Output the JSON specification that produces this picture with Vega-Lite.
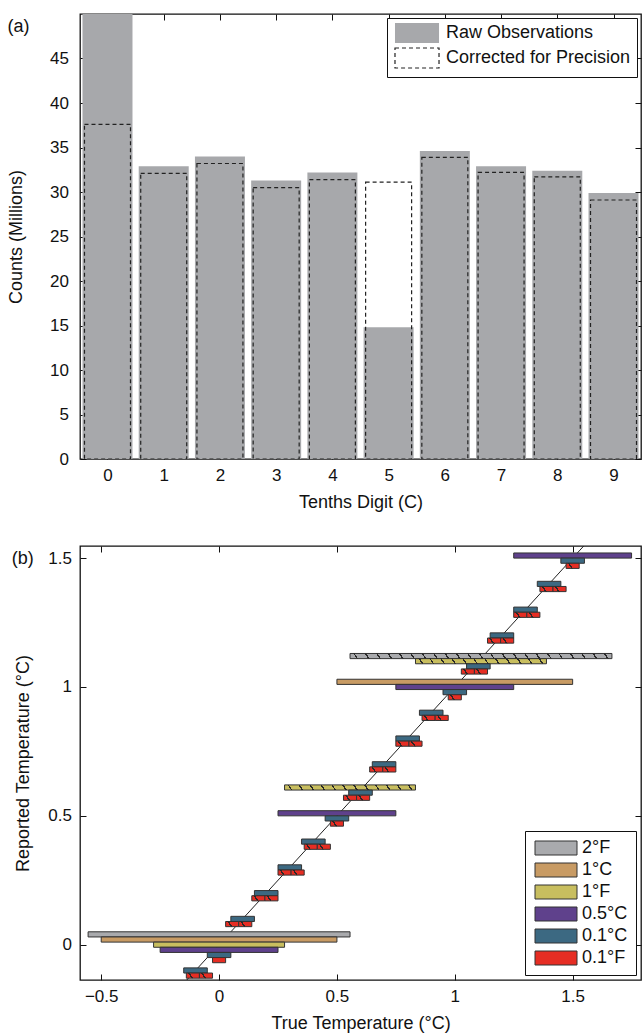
{
  "$schema": "https://vega.github.io/schema/vega-lite/v6.json",
  "padding": {"left": 6, "top": 12, "right": 2, "bottom": 0},
  "spacing": 32,
  "resolve": {
    "scale": {"fill": "independent", "stroke": "independent", "strokeDash": "independent"},
    "legend": {"fill": "independent", "stroke": "independent", "strokeDash": "independent"}
  },
  "config": {
    "font": "Liberation Sans",
    "view": {"stroke": "#111", "strokeWidth": 1.3},
    "axis": {
      "domain": false, "grid": false,
      "tickColor": "#111", "tickSize": -6, "tickWidth": 1,
      "labelFont": "Liberation Sans", "labelFontSize": 17, "labelColor": "#111",
      "titleFont": "Liberation Sans", "titleFontSize": 18, "titleFontWeight": "normal", "titleColor": "#111"
    },
    "axisX": {"labelPadding": 14, "titlePadding": 10},
    "axisY": {"labelPadding": 14.5, "titlePadding": 15},
    "legend": {"labelFont": "Liberation Sans", "labelColor": "#111", "labelFontSize": 18, "labelLimit": 400, "strokeColor": "#111", "fillColor": "white"},
    "title": {"font": "Liberation Sans", "fontSize": 18, "fontWeight": "normal", "color": "#111"}
  },
  "datasets": {
    "counts": [
      {"digit": 0, "kind": "Raw Observations", "count": 50},
      {"digit": 1, "kind": "Raw Observations", "count": 32.9},
      {"digit": 2, "kind": "Raw Observations", "count": 34.0},
      {"digit": 3, "kind": "Raw Observations", "count": 31.3},
      {"digit": 4, "kind": "Raw Observations", "count": 32.2},
      {"digit": 5, "kind": "Raw Observations", "count": 14.8},
      {"digit": 6, "kind": "Raw Observations", "count": 34.6},
      {"digit": 7, "kind": "Raw Observations", "count": 32.9},
      {"digit": 8, "kind": "Raw Observations", "count": 32.4},
      {"digit": 9, "kind": "Raw Observations", "count": 29.9},
      {"digit": 0, "kind": "Corrected for Precision", "count": 37.6},
      {"digit": 1, "kind": "Corrected for Precision", "count": 32.1},
      {"digit": 2, "kind": "Corrected for Precision", "count": 33.2},
      {"digit": 3, "kind": "Corrected for Precision", "count": 30.5},
      {"digit": 4, "kind": "Corrected for Precision", "count": 31.4},
      {"digit": 5, "kind": "Corrected for Precision", "count": 31.1},
      {"digit": 6, "kind": "Corrected for Precision", "count": 33.9},
      {"digit": 7, "kind": "Corrected for Precision", "count": 32.2},
      {"digit": 8, "kind": "Corrected for Precision", "count": 31.7},
      {"digit": 9, "kind": "Corrected for Precision", "count": 29.1}
    ],
    "diag": [{"t": -0.6}, {"t": 1.8}],
    "bars": [
      {"s": "2°F", "lo": -0.5556, "hi": 0.5556, "ylo": 0.03, "yhi": 0.05, "h": "none"},
      {"s": "2°F", "lo": 0.5556, "hi": 1.6667, "ylo": 1.11, "yhi": 1.13, "h": "wide"},
      {"s": "1°C", "lo": -0.5, "hi": 0.5, "ylo": 0.01, "yhi": 0.03, "h": "none"},
      {"s": "1°C", "lo": 0.5, "hi": 1.5, "ylo": 1.01, "yhi": 1.03, "h": "none"},
      {"s": "1°F", "lo": -0.2778, "hi": 0.2778, "ylo": -0.01, "yhi": 0.01, "h": "none"},
      {"s": "1°F", "lo": 0.2778, "hi": 0.8333, "ylo": 0.6, "yhi": 0.62, "h": "mid"},
      {"s": "1°F", "lo": 0.8333, "hi": 1.3889, "ylo": 1.09, "yhi": 1.11, "h": "mid"},
      {"s": "0.5°C", "lo": -0.25, "hi": 0.25, "ylo": -0.03, "yhi": -0.01, "h": "none"},
      {"s": "0.5°C", "lo": 0.25, "hi": 0.75, "ylo": 0.5, "yhi": 0.52, "h": "none"},
      {"s": "0.5°C", "lo": 0.75, "hi": 1.25, "ylo": 0.99, "yhi": 1.01, "h": "none"},
      {"s": "0.5°C", "lo": 1.25, "hi": 1.75, "ylo": 1.5, "yhi": 1.52, "h": "none"},
      {"s": "0.1°C", "lo": -0.15, "hi": -0.05, "ylo": -0.11, "yhi": -0.09, "h": "none"},
      {"s": "0.1°C", "lo": -0.05, "hi": 0.05, "ylo": -0.05, "yhi": -0.03, "h": "none"},
      {"s": "0.1°C", "lo": 0.05, "hi": 0.15, "ylo": 0.09, "yhi": 0.11, "h": "none"},
      {"s": "0.1°C", "lo": 0.15, "hi": 0.25, "ylo": 0.19, "yhi": 0.21, "h": "none"},
      {"s": "0.1°C", "lo": 0.25, "hi": 0.35, "ylo": 0.29, "yhi": 0.31, "h": "none"},
      {"s": "0.1°C", "lo": 0.35, "hi": 0.45, "ylo": 0.39, "yhi": 0.41, "h": "none"},
      {"s": "0.1°C", "lo": 0.45, "hi": 0.55, "ylo": 0.48, "yhi": 0.5, "h": "none"},
      {"s": "0.1°C", "lo": 0.55, "hi": 0.65, "ylo": 0.58, "yhi": 0.6, "h": "none"},
      {"s": "0.1°C", "lo": 0.65, "hi": 0.75, "ylo": 0.69, "yhi": 0.71, "h": "none"},
      {"s": "0.1°C", "lo": 0.75, "hi": 0.85, "ylo": 0.79, "yhi": 0.81, "h": "none"},
      {"s": "0.1°C", "lo": 0.85, "hi": 0.95, "ylo": 0.89, "yhi": 0.91, "h": "none"},
      {"s": "0.1°C", "lo": 0.95, "hi": 1.05, "ylo": 0.97, "yhi": 0.99, "h": "none"},
      {"s": "0.1°C", "lo": 1.05, "hi": 1.15, "ylo": 1.07, "yhi": 1.09, "h": "none"},
      {"s": "0.1°C", "lo": 1.15, "hi": 1.25, "ylo": 1.19, "yhi": 1.21, "h": "none"},
      {"s": "0.1°C", "lo": 1.25, "hi": 1.35, "ylo": 1.29, "yhi": 1.31, "h": "none"},
      {"s": "0.1°C", "lo": 1.35, "hi": 1.45, "ylo": 1.39, "yhi": 1.41, "h": "none"},
      {"s": "0.1°C", "lo": 1.45, "hi": 1.55, "ylo": 1.48, "yhi": 1.5, "h": "none"},
      {"s": "0.1°F", "lo": -0.1389, "hi": -0.0833, "ylo": -0.13, "yhi": -0.11, "h": "narrow"},
      {"s": "0.1°F", "lo": -0.0833, "hi": -0.0278, "ylo": -0.13, "yhi": -0.11, "h": "narrow"},
      {"s": "0.1°F", "lo": -0.0278, "hi": 0.0278, "ylo": -0.07, "yhi": -0.05, "h": "none"},
      {"s": "0.1°F", "lo": 0.0278, "hi": 0.0833, "ylo": 0.07, "yhi": 0.09, "h": "narrow"},
      {"s": "0.1°F", "lo": 0.0833, "hi": 0.1389, "ylo": 0.07, "yhi": 0.09, "h": "narrow"},
      {"s": "0.1°F", "lo": 0.1389, "hi": 0.1944, "ylo": 0.17, "yhi": 0.19, "h": "narrow"},
      {"s": "0.1°F", "lo": 0.1944, "hi": 0.25, "ylo": 0.17, "yhi": 0.19, "h": "narrow"},
      {"s": "0.1°F", "lo": 0.25, "hi": 0.3056, "ylo": 0.27, "yhi": 0.29, "h": "narrow"},
      {"s": "0.1°F", "lo": 0.3056, "hi": 0.3611, "ylo": 0.27, "yhi": 0.29, "h": "narrow"},
      {"s": "0.1°F", "lo": 0.3611, "hi": 0.4167, "ylo": 0.37, "yhi": 0.39, "h": "narrow"},
      {"s": "0.1°F", "lo": 0.4167, "hi": 0.4722, "ylo": 0.37, "yhi": 0.39, "h": "narrow"},
      {"s": "0.1°F", "lo": 0.4722, "hi": 0.5278, "ylo": 0.46, "yhi": 0.48, "h": "narrow"},
      {"s": "0.1°F", "lo": 0.5278, "hi": 0.5833, "ylo": 0.56, "yhi": 0.58, "h": "narrow"},
      {"s": "0.1°F", "lo": 0.5833, "hi": 0.6389, "ylo": 0.56, "yhi": 0.58, "h": "narrow"},
      {"s": "0.1°F", "lo": 0.6389, "hi": 0.6944, "ylo": 0.67, "yhi": 0.69, "h": "narrow"},
      {"s": "0.1°F", "lo": 0.6944, "hi": 0.75, "ylo": 0.67, "yhi": 0.69, "h": "narrow"},
      {"s": "0.1°F", "lo": 0.75, "hi": 0.8056, "ylo": 0.77, "yhi": 0.79, "h": "narrow"},
      {"s": "0.1°F", "lo": 0.8056, "hi": 0.8611, "ylo": 0.77, "yhi": 0.79, "h": "narrow"},
      {"s": "0.1°F", "lo": 0.8611, "hi": 0.9167, "ylo": 0.87, "yhi": 0.89, "h": "narrow"},
      {"s": "0.1°F", "lo": 0.9167, "hi": 0.9722, "ylo": 0.87, "yhi": 0.89, "h": "narrow"},
      {"s": "0.1°F", "lo": 0.9722, "hi": 1.0278, "ylo": 0.95, "yhi": 0.97, "h": "narrow"},
      {"s": "0.1°F", "lo": 1.0278, "hi": 1.0833, "ylo": 1.05, "yhi": 1.07, "h": "narrow"},
      {"s": "0.1°F", "lo": 1.0833, "hi": 1.1389, "ylo": 1.05, "yhi": 1.07, "h": "narrow"},
      {"s": "0.1°F", "lo": 1.1389, "hi": 1.1944, "ylo": 1.17, "yhi": 1.19, "h": "narrow"},
      {"s": "0.1°F", "lo": 1.1944, "hi": 1.25, "ylo": 1.17, "yhi": 1.19, "h": "narrow"},
      {"s": "0.1°F", "lo": 1.25, "hi": 1.3056, "ylo": 1.27, "yhi": 1.29, "h": "narrow"},
      {"s": "0.1°F", "lo": 1.3056, "hi": 1.3611, "ylo": 1.27, "yhi": 1.29, "h": "narrow"},
      {"s": "0.1°F", "lo": 1.3611, "hi": 1.4167, "ylo": 1.37, "yhi": 1.39, "h": "narrow"},
      {"s": "0.1°F", "lo": 1.4167, "hi": 1.4722, "ylo": 1.37, "yhi": 1.39, "h": "narrow"},
      {"s": "0.1°F", "lo": 1.4722, "hi": 1.5278, "ylo": 1.46, "yhi": 1.48, "h": "narrow"}
    ]
  },
  "vconcat": [
    {
      "width": 561,
      "height": 445,
      "title": {"text": "(a)", "anchor": "start", "frame": "bounds", "baseline": "top", "offset": -22, "dx": 0},
      "data": {"name": "counts"},
      "layer": [
        {
          "transform": [{"filter": "datum.kind === 'Raw Observations'"}],
          "mark": {"type": "bar", "orient": "vertical", "size": 50, "clip": true, "strokeWidth": 0},
          "encoding": {
            "x": {"field": "digit", "type": "quantitative", "scale": {"domain": [-0.4, 9.4], "nice": false, "zero": false},
                  "axis": {"orient": "bottom", "values": [0, 1, 2, 3, 4, 5, 6, 7, 8, 9], "format": "d", "title": "Tenths Digit (C)"}},
            "y": {"field": "count", "type": "quantitative", "scale": {"domain": [0, 50], "nice": false},
                  "axis": {"orient": "left", "values": [0, 5, 10, 15, 20, 25, 30, 35, 40, 45], "title": "Counts (Millions)", "titlePadding": 24, "labelPadding": 17.5}},
            "fill": {"field": "kind", "type": "nominal",
                     "scale": {"domain": ["Raw Observations", "Corrected for Precision"], "range": ["#a7a8ab", "transparent"]},
                     "legend": {"orient": "top-right", "title": null, "offset": 4, "padding": 6, "symbolType": "M-1.43,-1.43H4.86V1.43H-1.43Z", "symbolSize": 196, "symbolOffset": 3, "labelOffset": 32, "rowPadding": -1, "symbolStrokeWidth": 1.2}}
          }
        },
        {
          "transform": [{"filter": "datum.kind === 'Corrected for Precision'"}],
          "mark": {"type": "bar", "orient": "vertical", "size": 46, "clip": true, "strokeWidth": 1.2, "fill": "transparent"},
          "encoding": {
            "x": {"field": "digit", "type": "quantitative",
                  "axis": {"orient": "top", "values": [0, 1, 2, 3, 4, 5, 6, 7, 8, 9], "labels": false, "title": null}},
            "y": {"field": "count", "type": "quantitative",
                  "axis": {"orient": "right", "values": [0, 5, 10, 15, 20, 25, 30, 35, 40, 45], "labels": false, "title": null}},
            "stroke": {"field": "kind", "type": "nominal",
                       "scale": {"domain": ["Raw Observations", "Corrected for Precision"], "range": ["transparent", "#222"]},
                       "legend": {"orient": "top-right", "title": null, "offset": 4, "padding": 6, "symbolType": "M-1.43,-1.43H4.86V1.43H-1.43Z", "symbolSize": 196, "symbolOffset": 3, "labelOffset": 32, "rowPadding": -1, "symbolStrokeWidth": 1.2}},
            "strokeDash": {"field": "kind", "type": "nominal",
                           "scale": {"domain": ["Raw Observations", "Corrected for Precision"], "range": [[1, 0], [4, 3]]},
                           "legend": {"orient": "top-right", "title": null, "offset": 4, "padding": 6, "symbolType": "M-1.43,-1.43H4.86V1.43H-1.43Z", "symbolSize": 196, "symbolOffset": 3, "labelOffset": 32, "rowPadding": -1, "symbolStrokeWidth": 1.2}}
          }
        }
      ]
    },
    {
      "width": 561,
      "height": 434,
      "title": {"text": "(b)", "anchor": "start", "frame": "bounds", "baseline": "top", "offset": -22, "dx": -3},
      "layer": [
        {
          "data": {"name": "diag"},
          "mark": {"type": "line", "color": "#222", "strokeWidth": 1, "clip": true},
          "encoding": {
            "x": {"field": "t", "type": "quantitative", "scale": {"domain": [-0.59, 1.79], "nice": false, "zero": false},
                  "axis": {"orient": "bottom", "values": [-0.5, 0, 0.5, 1, 1.5], "format": "~g", "title": "True Temperature (°C)"}},
            "y": {"field": "t", "type": "quantitative", "scale": {"domain": [-0.137, 1.547], "nice": false, "zero": false},
                  "axis": {"orient": "left", "values": [0, 0.5, 1, 1.5], "format": "~g", "title": "Reported Temperature (°C)"}}
          }
        },
        {
          "data": {"name": "bars"},
          "mark": {"type": "rect", "stroke": "#333", "strokeWidth": 1, "clip": true},
          "encoding": {
            "x": {"field": "lo", "type": "quantitative",
                  "axis": {"orient": "top", "values": [-0.5, 0, 0.5, 1, 1.5], "labels": false, "title": null}},
            "x2": {"field": "hi"},
            "y": {"field": "ylo", "type": "quantitative",
                  "axis": {"orient": "right", "values": [0, 0.5, 1, 1.5], "labels": false, "title": null}},
            "y2": {"field": "yhi"},
            "fill": {"field": "s", "type": "nominal",
                     "scale": {"domain": ["2°F", "1°C", "1°F", "0.5°C", "0.1°C", "0.1°F"],
                               "range": ["#a9aaad", "#c89b64", "#c8be5f", "#5f418c", "#3c6982", "#e62d23"]},
                     "legend": {"orient": "bottom-right", "title": null, "offset": 5, "padding": 8, "symbolType": "M-1,-1H5V1H-1Z", "symbolSize": 196, "symbolStrokeColor": "#333", "symbolStrokeWidth": 1, "labelOffset": 31, "rowPadding": 4}}
          }
        },
        {
          "data": {"name": "bars"},
          "transform": [{"filter": "datum.h === 'wide'"}],
          "mark": {"type": "rect", "strokeWidth": 0, "clip": true,
                   "fill": {"gradient": "linear", "x1": 0, "y1": 0.5067, "x2": 1, "y2": 0.4933, "stops": [
                     {"offset": 0, "color": "rgba(40,40,40,0)"},
                     {"offset": 0.0187, "color": "rgba(40,40,40,0)"}, {"offset": 0.0187, "color": "#282828"}, {"offset": 0.0247, "color": "#282828"}, {"offset": 0.0247, "color": "rgba(40,40,40,0)"},
                     {"offset": 0.0622, "color": "rgba(40,40,40,0)"}, {"offset": 0.0622, "color": "#282828"}, {"offset": 0.0682, "color": "#282828"}, {"offset": 0.0682, "color": "rgba(40,40,40,0)"},
                     {"offset": 0.1057, "color": "rgba(40,40,40,0)"}, {"offset": 0.1057, "color": "#282828"}, {"offset": 0.1117, "color": "#282828"}, {"offset": 0.1117, "color": "rgba(40,40,40,0)"},
                     {"offset": 0.1492, "color": "rgba(40,40,40,0)"}, {"offset": 0.1492, "color": "#282828"}, {"offset": 0.1552, "color": "#282828"}, {"offset": 0.1552, "color": "rgba(40,40,40,0)"},
                     {"offset": 0.1927, "color": "rgba(40,40,40,0)"}, {"offset": 0.1927, "color": "#282828"}, {"offset": 0.1987, "color": "#282828"}, {"offset": 0.1987, "color": "rgba(40,40,40,0)"},
                     {"offset": 0.2361, "color": "rgba(40,40,40,0)"}, {"offset": 0.2361, "color": "#282828"}, {"offset": 0.2421, "color": "#282828"}, {"offset": 0.2421, "color": "rgba(40,40,40,0)"},
                     {"offset": 0.2796, "color": "rgba(40,40,40,0)"}, {"offset": 0.2796, "color": "#282828"}, {"offset": 0.2856, "color": "#282828"}, {"offset": 0.2856, "color": "rgba(40,40,40,0)"},
                     {"offset": 0.3231, "color": "rgba(40,40,40,0)"}, {"offset": 0.3231, "color": "#282828"}, {"offset": 0.3291, "color": "#282828"}, {"offset": 0.3291, "color": "rgba(40,40,40,0)"},
                     {"offset": 0.3666, "color": "rgba(40,40,40,0)"}, {"offset": 0.3666, "color": "#282828"}, {"offset": 0.3726, "color": "#282828"}, {"offset": 0.3726, "color": "rgba(40,40,40,0)"},
                     {"offset": 0.41, "color": "rgba(40,40,40,0)"}, {"offset": 0.41, "color": "#282828"}, {"offset": 0.416, "color": "#282828"}, {"offset": 0.416, "color": "rgba(40,40,40,0)"},
                     {"offset": 0.4535, "color": "rgba(40,40,40,0)"}, {"offset": 0.4535, "color": "#282828"}, {"offset": 0.4595, "color": "#282828"}, {"offset": 0.4595, "color": "rgba(40,40,40,0)"},
                     {"offset": 0.497, "color": "rgba(40,40,40,0)"}, {"offset": 0.497, "color": "#282828"}, {"offset": 0.503, "color": "#282828"}, {"offset": 0.503, "color": "rgba(40,40,40,0)"},
                     {"offset": 0.5405, "color": "rgba(40,40,40,0)"}, {"offset": 0.5405, "color": "#282828"}, {"offset": 0.5465, "color": "#282828"}, {"offset": 0.5465, "color": "rgba(40,40,40,0)"},
                     {"offset": 0.584, "color": "rgba(40,40,40,0)"}, {"offset": 0.584, "color": "#282828"}, {"offset": 0.59, "color": "#282828"}, {"offset": 0.59, "color": "rgba(40,40,40,0)"},
                     {"offset": 0.6274, "color": "rgba(40,40,40,0)"}, {"offset": 0.6274, "color": "#282828"}, {"offset": 0.6334, "color": "#282828"}, {"offset": 0.6334, "color": "rgba(40,40,40,0)"},
                     {"offset": 0.6709, "color": "rgba(40,40,40,0)"}, {"offset": 0.6709, "color": "#282828"}, {"offset": 0.6769, "color": "#282828"}, {"offset": 0.6769, "color": "rgba(40,40,40,0)"},
                     {"offset": 0.7144, "color": "rgba(40,40,40,0)"}, {"offset": 0.7144, "color": "#282828"}, {"offset": 0.7204, "color": "#282828"}, {"offset": 0.7204, "color": "rgba(40,40,40,0)"},
                     {"offset": 0.7579, "color": "rgba(40,40,40,0)"}, {"offset": 0.7579, "color": "#282828"}, {"offset": 0.7639, "color": "#282828"}, {"offset": 0.7639, "color": "rgba(40,40,40,0)"},
                     {"offset": 0.8013, "color": "rgba(40,40,40,0)"}, {"offset": 0.8013, "color": "#282828"}, {"offset": 0.8073, "color": "#282828"}, {"offset": 0.8073, "color": "rgba(40,40,40,0)"},
                     {"offset": 0.8448, "color": "rgba(40,40,40,0)"}, {"offset": 0.8448, "color": "#282828"}, {"offset": 0.8508, "color": "#282828"}, {"offset": 0.8508, "color": "rgba(40,40,40,0)"},
                     {"offset": 0.8883, "color": "rgba(40,40,40,0)"}, {"offset": 0.8883, "color": "#282828"}, {"offset": 0.8943, "color": "#282828"}, {"offset": 0.8943, "color": "rgba(40,40,40,0)"},
                     {"offset": 0.9318, "color": "rgba(40,40,40,0)"}, {"offset": 0.9318, "color": "#282828"}, {"offset": 0.9378, "color": "#282828"}, {"offset": 0.9378, "color": "rgba(40,40,40,0)"},
                     {"offset": 0.9753, "color": "rgba(40,40,40,0)"}, {"offset": 0.9753, "color": "#282828"}, {"offset": 0.9813, "color": "#282828"}, {"offset": 0.9813, "color": "rgba(40,40,40,0)"},
                     {"offset": 1, "color": "rgba(40,40,40,0)"}
                   ]}},
          "encoding": {
            "x": {"field": "lo", "type": "quantitative", "axis": null},
            "x2": {"field": "hi"},
            "y": {"field": "ylo", "type": "quantitative", "axis": null},
            "y2": {"field": "yhi"}
          }
        },
        {
          "data": {"name": "bars"},
          "transform": [{"filter": "datum.h === 'mid'"}],
          "mark": {"type": "rect", "strokeWidth": 0, "clip": true,
                   "fill": {"gradient": "linear", "x1": 0, "y1": 0.5133, "x2": 1, "y2": 0.4867, "stops": [
                     {"offset": 0, "color": "rgba(40,40,40,0)"},
                     {"offset": 0.0357, "color": "rgba(40,40,40,0)"}, {"offset": 0.0357, "color": "#282828"}, {"offset": 0.0477, "color": "#282828"}, {"offset": 0.0477, "color": "rgba(40,40,40,0)"},
                     {"offset": 0.119, "color": "rgba(40,40,40,0)"}, {"offset": 0.119, "color": "#282828"}, {"offset": 0.131, "color": "#282828"}, {"offset": 0.131, "color": "rgba(40,40,40,0)"},
                     {"offset": 0.2023, "color": "rgba(40,40,40,0)"}, {"offset": 0.2023, "color": "#282828"}, {"offset": 0.2143, "color": "#282828"}, {"offset": 0.2143, "color": "rgba(40,40,40,0)"},
                     {"offset": 0.2857, "color": "rgba(40,40,40,0)"}, {"offset": 0.2857, "color": "#282828"}, {"offset": 0.2977, "color": "#282828"}, {"offset": 0.2977, "color": "rgba(40,40,40,0)"},
                     {"offset": 0.369, "color": "rgba(40,40,40,0)"}, {"offset": 0.369, "color": "#282828"}, {"offset": 0.381, "color": "#282828"}, {"offset": 0.381, "color": "rgba(40,40,40,0)"},
                     {"offset": 0.4523, "color": "rgba(40,40,40,0)"}, {"offset": 0.4523, "color": "#282828"}, {"offset": 0.4643, "color": "#282828"}, {"offset": 0.4643, "color": "rgba(40,40,40,0)"},
                     {"offset": 0.5357, "color": "rgba(40,40,40,0)"}, {"offset": 0.5357, "color": "#282828"}, {"offset": 0.5477, "color": "#282828"}, {"offset": 0.5477, "color": "rgba(40,40,40,0)"},
                     {"offset": 0.619, "color": "rgba(40,40,40,0)"}, {"offset": 0.619, "color": "#282828"}, {"offset": 0.631, "color": "#282828"}, {"offset": 0.631, "color": "rgba(40,40,40,0)"},
                     {"offset": 0.7023, "color": "rgba(40,40,40,0)"}, {"offset": 0.7023, "color": "#282828"}, {"offset": 0.7143, "color": "#282828"}, {"offset": 0.7143, "color": "rgba(40,40,40,0)"},
                     {"offset": 0.7857, "color": "rgba(40,40,40,0)"}, {"offset": 0.7857, "color": "#282828"}, {"offset": 0.7977, "color": "#282828"}, {"offset": 0.7977, "color": "rgba(40,40,40,0)"},
                     {"offset": 0.869, "color": "rgba(40,40,40,0)"}, {"offset": 0.869, "color": "#282828"}, {"offset": 0.881, "color": "#282828"}, {"offset": 0.881, "color": "rgba(40,40,40,0)"},
                     {"offset": 0.9523, "color": "rgba(40,40,40,0)"}, {"offset": 0.9523, "color": "#282828"}, {"offset": 0.9643, "color": "#282828"}, {"offset": 0.9643, "color": "rgba(40,40,40,0)"},
                     {"offset": 1, "color": "rgba(40,40,40,0)"}
                   ]}},
          "encoding": {
            "x": {"field": "lo", "type": "quantitative", "axis": null},
            "x2": {"field": "hi"},
            "y": {"field": "ylo", "type": "quantitative", "axis": null},
            "y2": {"field": "yhi"}
          }
        },
        {
          "data": {"name": "bars"},
          "transform": [{"filter": "datum.h === 'narrow'"}],
          "mark": {"type": "rect", "strokeWidth": 0, "clip": true,
                   "fill": {"gradient": "linear", "x1": 0, "y1": 0.633, "x2": 1, "y2": 0.367, "stops": [
                     {"offset": 0, "color": "rgba(40,40,40,0)"},
                     {"offset": 0.27, "color": "rgba(40,40,40,0)"}, {"offset": 0.27, "color": "#282828"}, {"offset": 0.39, "color": "#282828"}, {"offset": 0.39, "color": "rgba(40,40,40,0)"},
                     {"offset": 1, "color": "rgba(40,40,40,0)"}
                   ]}},
          "encoding": {
            "x": {"field": "lo", "type": "quantitative", "axis": null},
            "x2": {"field": "hi"},
            "y": {"field": "ylo", "type": "quantitative", "axis": null},
            "y2": {"field": "yhi"}
          }
        }
      ]
    }
  ]
}
